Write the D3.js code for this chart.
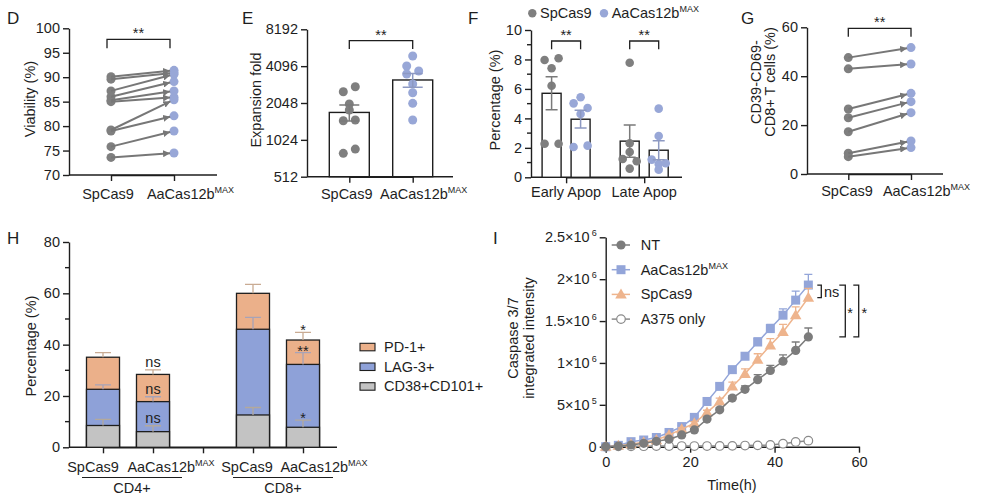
<!DOCTYPE html>
<html lang="en">
<head>
<meta charset="utf-8">
<script src="https://cdn.jsdelivr.net/npm/d3@7"></script>
<style>
  body { margin: 0; background: #fff; }
  svg text { font-family: "Liberation Sans", Arial, sans-serif; fill: #1e1e1e; }
</style>
</head>
<body>
<svg id="fig" width="984" height="500"></svg>
<script>
// ---- data ----
const pairGroups = ["SpCas9", "AaCas12b^MAX"];

// D viability (%)
const viabSp = [90.1, 89.6, 87.2, 86.0, 85.3, 85.0, 79.2, 79.0, 75.8, 73.6];
const viabAa = [91.4, 90.9, 90.6, 89.1, 87.2, 85.9, 85.4, 82.1, 79.0, 74.5];
const viabTicks = [70, 75, 80, 85, 90, 95, 100];

// E expansion fold
const expSp = [2531, 2778, 2009, 1795, 1467, 1486, 794, 861];
const expAa = [4956, 4104, 3737, 3532, 2926, 2486, 2034, 1486];
const expTicks = [512, 1024, 2048, 4096, 8192];

// F apoptosis (%)
const apopCats = ["Early Apop", "Late Apop"];
const earlySp = [7.96, 8.08, 7.4, 6.22, 2.28, 2.28];
const earlyAa = [5.43, 5.02, 4.70, 4.30, 2.06, 2.15];
const lateSp = [7.78, 2.31, 1.72, 1.24, 1.09, 0.59];
const lateAa = [4.66, 2.80, 1.20, 0.90, 0.95, 0.52];

// G CD39-CD69- CD8+ T cells (%)
const cdSp = [47.6, 43.0, 26.6, 23.0, 17.3, 8.5, 7.1];
const cdAa = [51.7, 45.0, 33.0, 29.6, 25.1, 13.5, 10.8];

// H exhaustion markers (%), overlaid bars
const hCats = ["cd4sp", "cd4aa", "gap", "cd8sp", "cd8aa"];
const hLabels = ["SpCas9", "AaCas12b^MAX", "", "SpCas9", "AaCas12b^MAX"];
const pd1 = [35.1, 28.4, null, 60.0, 41.8];
const lag3 = [22.6, 17.8, null, 46.0, 32.3];
const cd38 = [8.5, 6.1, null, 12.6, 7.8];
const pd1Err = [1.8, 1.8, null, 3.5, 3.0];
const lag3Err = [1.7, 1.9, null, 4.6, 4.6];
const cd38Err = [2.4, 2.3, null, 2.9, 2.8];
const sigPd1 = [null, "ns", null, null, "*"];
const sigLag3 = [null, "ns", null, null, "**"];
const sigCd38 = [null, "ns", null, null, "*"];
const hSeries = ["PD-1+", "LAG-3+", "CD38+CD101+"];

// I caspase 3/7 integrated intensity (x10^6)
const hours = [0, 3, 6, 9, 12, 15, 18, 21, 24, 27, 30, 33, 36, 39, 42, 45, 48];
const ntVal = [0, 0.008, 0.02, 0.04, 0.064, 0.09, 0.14, 0.2, 0.33, 0.44, 0.58, 0.685, 0.8, 0.91, 1.02, 1.15, 1.31];
const aaVal = [0, 0.016, 0.06, 0.08, 0.11, 0.17, 0.24, 0.35, 0.54, 0.72, 0.92, 1.08, 1.25, 1.41, 1.57, 1.75, 1.93];
const spVal = [0, 0.012, 0.03, 0.056, 0.08, 0.14, 0.21, 0.28, 0.41, 0.54, 0.72, 0.87, 1.04, 1.21, 1.37, 1.57, 1.78];
const a375Val = [0, 0.004, 0.005, 0.006, 0.007, 0.008, 0.008, 0.008, 0.008, 0.009, 0.01, 0.014, 0.016, 0.02, 0.036, 0.056, 0.072];
const ntErr = [0, 0, 0, 0.005, 0.005, 0.01, 0.01, 0.015, 0.02, 0.025, 0.03, 0.04, 0.06, 0.06, 0.076, 0.1, 0.107];
const aaErr = [0, 0, 0, 0.005, 0.01, 0.01, 0.015, 0.02, 0.025, 0.03, 0.035, 0.04, 0.05, 0.05, 0.076, 0.107, 0.127];
const spErr = [0, 0, 0, 0.005, 0.005, 0.01, 0.015, 0.02, 0.025, 0.04, 0.05, 0.06, 0.07, 0.08, 0.09, 0.1, 0.11];
const iTicks = [0, 0.5, 1, 1.5, 2, 2.5];
const iTickLab = ["0", "5×10^5", "1×10^6", "1.5×10^6", "2×10^6", "2.5×10^6"];
const iSeries = ["NT", "AaCas12b^MAX", "SpCas9", "A375 only"];

// ---- style ----
const ink = "#1e1e1e";
const grayPt = "#7f7f7f", bluePt = "#98a7d7";
const orangeC = "#ebb08a", blueC = "#8ea1d8", grayC = "#c3c3c3";
const FS = 14.5;

const svg = d3.select("#fig");

svg.append("defs").append("marker")
  .attr("id", "arr").attr("viewBox", "0 0 10 10")
  .attr("refX", 10).attr("refY", 5)
  .attr("markerWidth", 7).attr("markerHeight", 7)
  .attr("markerUnits", "userSpaceOnUse")
  .attr("orient", "auto")
  .append("path").attr("d", "M0,0 L10,5 L0,10 z").attr("fill", "#777");

function rich(sel, str) {
  const parts = str.split("^");
  sel.text(null);
  sel.append("tspan").text(parts[0]);
  if (parts[1]) sel.append("tspan").attr("dy", -6).attr("dx", parts[0].endsWith("10") ? 2 : 0)
    .attr("font-size", 9).text(parts[1]);
}

function styleAxis(g) {
  g.attr("font-family", null).attr("font-size", FS);
  g.selectAll("path.domain").attr("stroke", ink).attr("stroke-width", 1.4);
  g.selectAll(".tick line").attr("stroke", ink).attr("stroke-width", 1.4);
  g.selectAll(".tick text").attr("fill", ink);
}

function letter(x, y, t) {
  svg.append("text").attr("x", x).attr("y", y).attr("font-size", 17).text(t);
}

function yTitle(lines, x0, cy, gap) {
  lines.forEach((t, i) => {
    svg.append("text")
      .attr("transform", `translate(${x0 + i * gap},${cy}) rotate(-90)`)
      .attr("text-anchor", "middle").attr("font-size", FS).text(t);
  });
}

function bracket(x1, x2, top, bot, label) {
  svg.append("path")
    .attr("d", `M${x1},${bot}V${top}H${x2}V${bot}`)
    .attr("fill", "none").attr("stroke", ink).attr("stroke-width", 1.3);
  svg.append("text").attr("x", (x1 + x2) / 2).attr("y", top - 1)
    .attr("text-anchor", "middle").attr("font-size", FS).text(label);
}

// category labels, nudged sideways like the original layout
function catLabels(scale, cats, labels, y, nudge) {
  cats.forEach((c, i) => {
    if (!labels[i]) return;
    svg.append("text").attr("x", scale(c) + nudge[i]).attr("y", y)
      .attr("text-anchor", "middle").attr("font-size", FS)
      .call(rich, labels[i]);
  });
}

// paired before/after panel (D and G)
function pairedPanel(o) {
  const y = d3.scaleLinear().domain(o.domain).range([o.y0, o.y1]);
  const x = d3.scalePoint().domain(pairGroups).range(o.cx);
  svg.append("g").attr("transform", `translate(${o.ax},0)`)
    .call(d3.axisLeft(y).tickValues(o.ticks).tickSize(6).tickPadding(3).tickSizeOuter(0))
    .call(styleAxis);
  svg.append("g").attr("transform", `translate(0,${o.y0})`)
    .call(d3.axisBottom(x).tickSize(6).tickSizeOuter(0).tickFormat(""))
    .call(styleAxis);
  svg.append("line").attr("x1", o.ax).attr("x2", o.axEnd).attr("y1", o.y0).attr("y2", o.y0)
    .attr("stroke", ink).attr("stroke-width", 1.4);
  catLabels(x, pairGroups, pairGroups, o.labY, o.nudge);

  const pairs = o.a.map((v, i) => [v, o.b[i]]);
  svg.append("g").selectAll("circle").data(o.a).join("circle")
    .attr("cx", x(pairGroups[0])).attr("cy", d => y(d)).attr("r", 4.5).attr("fill", grayPt);
  svg.append("g").selectAll("circle").data(o.b).join("circle")
    .attr("cx", x(pairGroups[1])).attr("cy", d => y(d)).attr("r", 4.5).attr("fill", bluePt);
  svg.append("g").selectAll("line").data(pairs).join("line")
    .each(function (d) {
      const x1 = x(pairGroups[0]), y1 = y(d[0]), x2 = x(pairGroups[1]), y2 = y(d[1]);
      const len = Math.hypot(x2 - x1, y2 - y1), k = (len - 4) / len;
      d3.select(this).attr("x1", x1).attr("y1", y1)
        .attr("x2", x1 + (x2 - x1) * k).attr("y2", y1 + (y2 - y1) * k);
    })
    .attr("stroke", "#777").attr("stroke-width", 2).attr("marker-end", "url(#arr)");
  bracket(x(pairGroups[0]) + o.bOff, x(pairGroups[1]) + o.bOff, o.bTop, o.bBot, "**");
}

// ---- D ----
letter(7, 24, "D");
pairedPanel({ domain: [70, 100], y0: 175, y1: 28.3, ax: 69, axEnd: 217, cx: [111, 174],
  ticks: viabTicks, a: viabSp, b: viabAa, labY: 199, nudge: [-3, 16.5],
  bOff: -4, bTop: 39.3, bBot: 48.3 });
yTitle(["Viability (%)"], 35, 99, 0);

// ---- E ----
letter(242, 24, "E");
{
  const y = d3.scaleLog().base(2).domain([512, 8192]).range([176.7, 29.3]);
  const x = d3.scalePoint().domain(pairGroups).range([349.3, 412.7]);
  const groups = [expSp, expAa];
  const jit = [[-6, 6, 0, 0, -6, 6, -6, 6], [0, -6, 6, -6, 0, 0, 0, 0]];
  svg.append("g").attr("transform", "translate(307,0)")
    .call(d3.axisLeft(y).tickValues(expTicks).tickFormat(d3.format("d")).tickSize(6).tickPadding(3).tickSizeOuter(0))
    .call(styleAxis);
  svg.append("g").attr("transform", "translate(0,176.7)")
    .call(d3.axisBottom(x).tickSize(6).tickSizeOuter(0).tickFormat("")).call(styleAxis);
  svg.append("line").attr("x1", 307).attr("x2", 453).attr("y1", 176.7).attr("y2", 176.7)
    .attr("stroke", ink).attr("stroke-width", 1.4);
  catLabels(x, pairGroups, pairGroups, 199, [-2.6, 11]);
  groups.forEach((vals, gi) => {
    const cx = x(pairGroups[gi]);
    const m = d3.mean(vals), se = d3.deviation(vals) / Math.sqrt(vals.length);
    svg.append("rect").attr("x", cx - 20).attr("width", 40)
      .attr("y", y(m)).attr("height", 176.7 - y(m))
      .attr("fill", "#fff").attr("stroke", ink).attr("stroke-width", 1.4);
    const col = gi ? bluePt : grayPt;
    svg.append("g").selectAll("circle").data(vals).join("circle")
      .attr("cx", (d, i) => cx + jit[gi][i]).attr("cy", d => y(d)).attr("r", 4.5).attr("fill", col);
    svg.append("path")
      .attr("d", `M${cx},${y(m + se)}V${y(m - se)}M${cx - 10},${y(m + se)}H${cx + 10}M${cx - 10},${y(m - se)}H${cx + 10}`)
      .attr("stroke", gi ? "#8d99c2" : "#7a7a7a").attr("stroke-width", 1.5).attr("fill", "none");
  });
  bracket(x(pairGroups[0]), x(pairGroups[1]), 40.7, 49, "**");
  yTitle(["Expansion fold"], 261, 100, 0);
}

// ---- F ----
letter(468, 24, "F");
{
  const y = d3.scaleLinear().domain([0, 10]).range([177.3, 30]);
  const x = d3.scalePoint().domain(apopCats).range([566.1, 644.2]);
  const sub = d3.scalePoint().domain(pairGroups).range([-14.5, 14.5]);
  const data = [[earlySp, earlyAa], [lateSp, lateAa]];
  const jit = [[[-7, 7, 0, 0, -7, 7], [0, -7, 7, 0, -7, 7]], [[0, 0, 0, -7, 7, 0], [0, 0, -7, 0, 7, 0]]];
  svg.append("g").attr("transform", "translate(531,0)")
    .call(d3.axisLeft(y).tickValues([0, 2, 4, 6, 8, 10]).tickSize(6).tickPadding(3).tickSizeOuter(0))
    .call(styleAxis);
  svg.append("g").attr("transform", "translate(531,0)").selectAll("line")
    .data([1, 3, 5, 7, 9]).join("line")
    .attr("x1", -4).attr("x2", 0).attr("y1", d => y(d)).attr("y2", d => y(d))
    .attr("stroke", ink).attr("stroke-width", 1.4);
  svg.append("g").attr("transform", "translate(0,177.3)")
    .call(d3.axisBottom(x).tickSize(6).tickSizeOuter(0).tickFormat("")).call(styleAxis);
  svg.append("line").attr("x1", 531).attr("x2", 682).attr("y1", 177.3).attr("y2", 177.3)
    .attr("stroke", ink).attr("stroke-width", 1.4);
  apopCats.forEach(c => svg.append("text").attr("x", x(c)).attr("y", 197)
    .attr("text-anchor", "middle").attr("font-size", FS).text(c));
  data.forEach((pair, ci) => {
    pair.forEach((vals, gi) => {
      const cx = x(apopCats[ci]) + sub(pairGroups[gi]);
      const m = d3.mean(vals), se = d3.deviation(vals) / Math.sqrt(vals.length);
      svg.append("rect").attr("x", cx - 9.5).attr("width", 19)
        .attr("y", y(m)).attr("height", 177.3 - y(m))
        .attr("fill", "#fff").attr("stroke", ink).attr("stroke-width", 1.4);
      svg.append("g").selectAll("circle").data(vals).join("circle")
        .attr("cx", (d, i) => cx + jit[ci][gi][i]).attr("cy", d => y(d)).attr("r", 4.3)
        .attr("fill", gi ? bluePt : grayPt);
      svg.append("path")
        .attr("d", `M${cx},${y(m + se)}V${y(m - se)}M${cx - 6},${y(m + se)}H${cx + 6}M${cx - 6},${y(m - se)}H${cx + 6}`)
        .attr("stroke", gi ? "#8d99c2" : "#7a7a7a").attr("stroke-width", 1.5).attr("fill", "none");
    });
    bracket(x(apopCats[ci]) + sub(pairGroups[0]), x(apopCats[ci]) + sub(pairGroups[1]), 41, 49.3, "**");
  });
  yTitle(["Percentage  (%)"], 500, 100, 0);
  // legend
  const lg = [[532.3, 540, grayPt, "SpCas9"], [604, 611.7, bluePt, "AaCas12b^MAX"]];
  lg.forEach(l => {
    svg.append("circle").attr("cx", l[0]).attr("cy", 13.3).attr("r", 4.2).attr("fill", l[2]);
    svg.append("text").attr("x", l[1]).attr("y", 18.3).attr("font-size", FS).call(rich, l[3]);
  });
}

// ---- G ----
letter(741, 24, "G");
pairedPanel({ domain: [0, 60], y0: 174, y1: 27.3, ax: 807, axEnd: 943, cx: [848.3, 911],
  ticks: [0, 20, 40, 60], a: cdSp, b: cdAa, labY: 196, nudge: [-1.3, 15.5],
  bOff: 0, bTop: 28.3, bBot: 36.7 });
yTitle(["CD39-CD69-", "CD8+ T cells (%)"], 761, 82, 13.5);

// ---- H ----
letter(7, 244, "H");
{
  const y = d3.scaleLinear().domain([0, 80]).range([447.3, 242]);
  const x = d3.scalePoint().domain(hCats).range([103, 303]);
  svg.append("g").attr("transform", "translate(69,0)")
    .call(d3.axisLeft(y).tickValues([0, 20, 40, 60, 80]).tickSize(6).tickPadding(3).tickSizeOuter(0))
    .call(styleAxis);
  svg.append("g").attr("transform", "translate(69,0)").selectAll("line")
    .data([10, 30, 50, 70]).join("line")
    .attr("x1", -4).attr("x2", 0).attr("y1", d => y(d)).attr("y2", d => y(d))
    .attr("stroke", ink).attr("stroke-width", 1.4);
  svg.append("g").attr("transform", "translate(0,447.3)")
    .call(d3.axisBottom(x).tickSize(6).tickSizeOuter(0).tickFormat("")).call(styleAxis);
  svg.append("line").attr("x1", 69).attr("x2", 337).attr("y1", 447.3).attr("y2", 447.3)
    .attr("stroke", ink).attr("stroke-width", 1.4);
  catLabels(x, hCats, hLabels, 472, [-10, 18, 0, -6, 21]);

  const layers = [[pd1, pd1Err, orangeC, "#c9ab93", sigPd1], [lag3, lag3Err, blueC, "#a7a3b8", sigLag3], [cd38, cd38Err, grayC, "#b3a99c", sigCd38]];
  layers.forEach(L => {
    svg.append("g").selectAll("rect").data(hCats.filter((c, i) => L[0][i] != null)).join("rect")
      .attr("x", c => x(c) - 16.5).attr("width", 33)
      .attr("y", c => y(L[0][hCats.indexOf(c)]))
      .attr("height", c => 447.3 - y(L[0][hCats.indexOf(c)]))
      .attr("fill", L[2]).attr("stroke", ink).attr("stroke-width", 1.3);
  });
  layers.forEach(L => {
    hCats.forEach((c, i) => {
      if (L[0][i] == null) return;
      const cx = x(c), t = y(L[0][i]), e = y(L[0][i] + L[1][i]);
      svg.append("path").attr("d", `M${cx},${t}V${e}M${cx - 8},${e}H${cx + 8}`)
        .attr("stroke", L[3]).attr("stroke-width", 1.3).attr("fill", "none");
      if (L[4][i]) {
        const star = L[4][i].includes("*");
        svg.append("text").attr("x", cx).attr("y", star ? e + 3 : e - 3)
          .attr("text-anchor", "middle").attr("font-size", FS).attr("fill", "#222")
          .text(L[4][i]);
      }
    });
  });
  // group underlines
  [["CD4+", 82, 182, 132], ["CD8+", 233, 333, 283]].forEach(g => {
    svg.append("line").attr("x1", g[1]).attr("x2", g[2]).attr("y1", 477.5).attr("y2", 477.5)
      .attr("stroke", ink).attr("stroke-width", 1.2);
    svg.append("text").attr("x", g[3]).attr("y", 493).attr("text-anchor", "middle")
      .attr("font-size", FS).text(g[0]);
  });
  yTitle(["Percentage (%)"], 36, 346, 0);
  // legend
  const lc = [orangeC, blueC, grayC];
  hSeries.forEach((s, i) => {
    const cy = 347 + i * 19.7;
    svg.append("rect").attr("x", 360).attr("y", cy - 3.7).attr("width", 15).attr("height", 7.5)
      .attr("fill", lc[i]).attr("stroke", ink).attr("stroke-width", 1.1);
    svg.append("text").attr("x", 384).attr("y", cy + 5).attr("font-size", FS).text(s);
  });
}

// ---- I ----
letter(493, 244, "I");
{
  const x = d3.scaleLinear().domain([0, 60]).range([605.7, 859]);
  const y = d3.scaleLinear().domain([0, 2.5]).range([446.7, 237.3]);
  svg.append("g").attr("transform", "translate(605.7,0)")
    .call(d3.axisLeft(y).tickValues(iTicks).tickSize(6).tickPadding(3).tickSizeOuter(0))
    .call(styleAxis)
    .selectAll(".tick text").each(function (d, i) { rich(d3.select(this), iTickLab[i]); });
  svg.append("g").attr("transform", "translate(0,446.7)")
    .call(d3.axisBottom(x).tickValues([0, 20, 40, 60]).tickSize(6).tickPadding(4).tickSizeOuter(0))
    .call(styleAxis);
  svg.append("text").attr("x", 732).attr("y", 490).attr("text-anchor", "middle")
    .attr("font-size", FS).text("Time(h)");
  yTitle(["Caspase 3/7", "integrated intensity"], 518, 338, 16);

  const series = [
    { name: iSeries[3], v: a375Val, e: null, col: "#8a8a8a", sym: "open" },
    { name: iSeries[1], v: aaVal, e: aaErr, col: "#93a5d9", sym: "square" },
    { name: iSeries[2], v: spVal, e: spErr, col: "#eeb48d", sym: "tri" },
    { name: iSeries[0], v: ntVal, e: ntErr, col: "#7c7c7c", sym: "circle" }
  ];
  const line = d3.line().x((d, i) => x(hours[i])).y(d => y(d));
  function mark(g, s, px, py) {
    if (s.sym === "square") {
      g.append("rect").attr("x", px - 4.5).attr("y", py - 4.5).attr("width", 9).attr("height", 9).attr("fill", s.col);
    } else if (s.sym === "tri") {
      g.append("path").attr("transform", `translate(${px},${py + 0.8})`)
        .attr("d", d3.symbol(d3.symbolTriangle, 58)()).attr("fill", s.col);
    } else if (s.sym === "open") {
      g.append("circle").attr("cx", px).attr("cy", py).attr("r", 4.3)
        .attr("fill", "#fff").attr("stroke", s.col).attr("stroke-width", 1.2);
    } else {
      g.append("circle").attr("cx", px).attr("cy", py).attr("r", 4.6).attr("fill", s.col);
    }
  }
  series.forEach(s => {
    const g = svg.append("g");
    if (s.e) {
      s.v.forEach((v, i) => {
        if (!s.e[i]) return;
        const px = x(hours[i]), t = y(v + s.e[i]);
        g.append("path").attr("d", `M${px},${y(v)}V${t}M${px - 4},${t}H${px + 4}`)
          .attr("stroke", s.col).attr("stroke-width", 1.3).attr("fill", "none");
      });
    }
    g.append("path").attr("d", line(s.v)).attr("fill", "none")
      .attr("stroke", s.col).attr("stroke-width", 1.5);
    s.v.forEach((v, i) => mark(g, s, x(hours[i]), y(v)));
  });

  // legend
  const order = [series[3], series[1], series[2], series[0]];
  order.forEach((s, i) => {
    const cy = 245 + i * 24.7;
    const g = svg.append("g");
    g.append("line").attr("x1", 611.7).attr("x2", 630).attr("y1", cy).attr("y2", cy)
      .attr("stroke", s.col).attr("stroke-width", 1.5);
    mark(g, s, 621, cy);
    svg.append("text").attr("x", 640.7).attr("y", cy + 5).attr("font-size", FS).call(rich, s.name);
  });

  // significance brackets at end of time course
  const last = hours.length - 1;
  const yA = y(aaVal[last]), yS = y(spVal[last]), yN = y(ntVal[last]);
  const br = [[817.3, 821.3, yA, yS, "ns", 824, yS - 1], [839.3, 845.3, yA, yN, "*", 850, (yA + yN) / 2 + 7],
              [853.3, 858.7, yA, yN, "*", 864.3, (yA + yN) / 2 + 7]];
  br.forEach(b => {
    svg.append("path").attr("d", `M${b[0]},${b[2]}H${b[1]}V${b[3]}H${b[0]}`)
      .attr("fill", "none").attr("stroke", ink).attr("stroke-width", 1.3);
    svg.append("text").attr("x", b[5]).attr("y", b[6])
      .attr("text-anchor", b[4] === "ns" ? "start" : "middle").attr("font-size", FS).text(b[4]);
  });
}
</script>
</body>
</html>
